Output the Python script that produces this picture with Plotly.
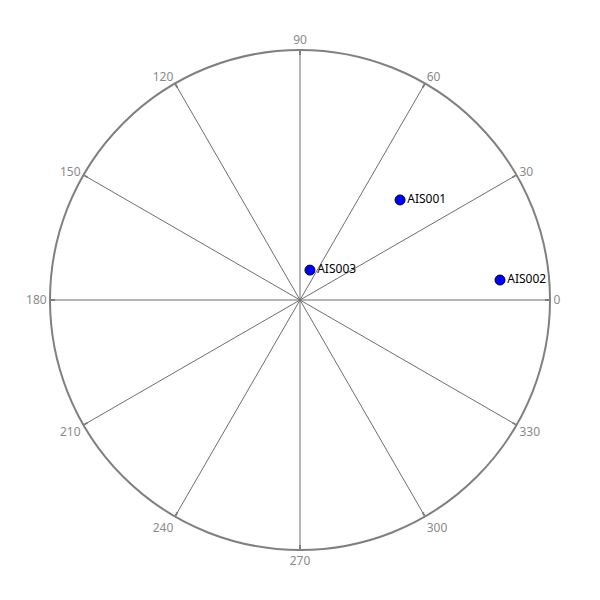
import plotly.graph_objects as go

names = ["AIS001", "AIS002", "AIS003"]
radius = [0.566, 0.804, 0.126]
bearing = [45.0, 5.7, 71.6]
tick_angles = [0, 30, 60, 90, 120, 150, 180, 210, 240, 270, 300, 330]
tick_labels = [str(a) for a in tick_angles]

fig = go.Figure()

# tick marks crossing the outer circle
tr, tt = [], []
for a in tick_angles:
    tr += [0.98, 1.04, None]
    tt += [a, a, None]
fig.add_trace(go.Scatterpolar(
    r=tr, theta=tt, mode="lines", line=dict(color="#808080", width=2),
    hoverinfo="skip", showlegend=False, cliponaxis=False,
))

fig.add_trace(go.Scatterpolar(
    r=radius, theta=bearing, mode="markers+text", text=names,
    textposition="middle right",
    textfont=dict(family="Noto Sans, DejaVu Sans, sans-serif", size=12, color="#000000"),
    marker=dict(size=10, color="#0000ff", line=dict(color="#000033", width=1)),
    showlegend=False, cliponaxis=False,
))

fig.update_layout(
    width=600, height=600,
    margin=dict(l=50, r=50, t=50, b=50),
    paper_bgcolor="white",
    font=dict(family="Noto Sans, DejaVu Sans, sans-serif"),
    polar=dict(
        domain=dict(x=[0, 1], y=[0, 1]),
        bgcolor="white",
        radialaxis=dict(range=[0, 1], visible=False, showgrid=False),
        angularaxis=dict(
            direction="counterclockwise", rotation=0,
            tickmode="array", tickvals=tick_angles, ticktext=tick_labels,
            showgrid=True, gridcolor="#6e6e6e", gridwidth=0.6,
            showline=True, linecolor="#808080", linewidth=2,
            ticks="",
            tickfont=dict(size=12, color="#8a8a8a"),
        ),
    ),
)

fig.write_html("out.html")
